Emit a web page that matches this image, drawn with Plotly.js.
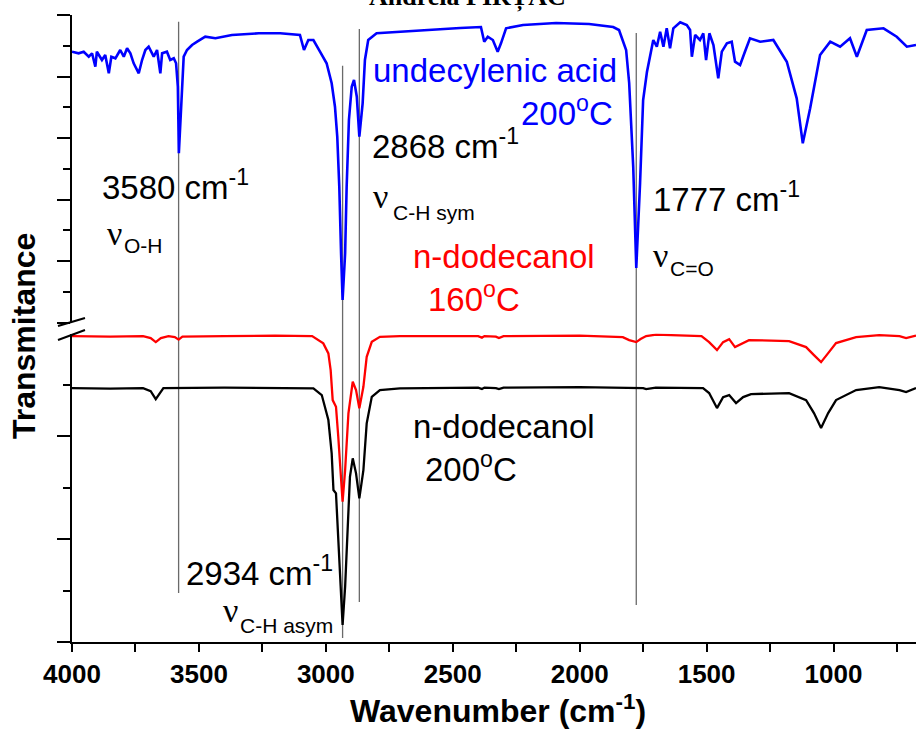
<!DOCTYPE html>
<html>
<head>
<meta charset="utf-8">
<script src="https://cdn.plot.ly/plotly-3.0.1.min.js"></script>
<style>
  html, body { margin: 0; padding: 0; background: #ffffff; }
  #chart { width: 916px; height: 731px; }
</style>
</head>
<body>
<div id="chart"></div>
<script>
// ---------------- DATA (transmittance in arbitrary units) ----------------
// undecylenic acid, 200 °C (upper panel)
const acidWavenumber = [4000,3974,3954,3934,3921,3908,3902,3882,3869,3855,3845,3829,3810,3796,3783,3770,3757,3737,3724,3711,3698,3678,3665,3652,3645,3626,3613,3599,3590,3583,3579,3570,3560,3547,3527,3507,3475,3435,3370,3264,3180,3102,3086,3069,3049,3023,2997,2977,2964,2955,2947,2940,2934,2924,2918,2909,2898,2889,2878,2868,2855,2846,2833,2800,2708,2578,2471,2389,2376,2362,2342,2323,2310,2290,2223,2093,1963,1868,1845,1817,1805,1789,1777,1762,1750,1735,1722,1710,1696,1683,1670,1657,1644,1631,1604,1578,1565,1558,1545,1526,1513,1502,1489,1473,1454,1440,1420,1401,1388,1368,1349,1329,1289,1237,1184,1145,1121,1092,1053,1013,974,935,908,869,803,751,711,675];
const acidSignal = [270.8,269.2,270.8,265.8,269.2,255.8,270.8,262.5,267.5,249.2,265.8,264.2,272.5,265.8,274.2,269.2,259.2,249.2,262.5,272.5,275.8,265.8,272.5,249.2,269.2,270.8,262.5,264.2,259.2,235.8,169.2,219.2,265.8,272.5,277.5,280.8,285.8,284.2,287.5,289.2,289.2,287.5,272.5,282.5,282.5,270.8,259.2,239.2,215.8,185.8,135.8,69.2,22.5,69.2,135.8,202.5,235.8,242.5,225.8,185.8,219.2,262.5,282.5,289.2,290.8,292.5,294.5,295.5,280.8,285.8,282.5,270.8,279.2,294.2,297.5,299.5,298.5,295.5,292.5,272.5,239.5,155.5,54.5,139.5,222.5,250.5,268,282.5,275.8,290.8,275.8,294.2,274.2,294.2,300.2,297.5,292.5,265.8,287.5,282.5,289.2,262.5,289.2,277.5,244.2,270.8,279.2,280.8,260.8,257.5,270.8,284.2,280.8,282.5,260.8,224.2,179.2,214.2,267.5,280.8,275.8,284.2,265.8,292.5,294.2,285.8,275.8,277.5];

// n-dodecanol, 160 °C (lower panel)
const dodec160Wavenumber = [4000,3850,3720,3690,3670,3650,3620,3595,3580,3565,3400,3200,3054,3010,2990,2981,2973,2960,2951,2941,2934,2924,2911,2894,2881,2868,2852,2839,2819,2787,2708,2400,2385,2375,2330,2318,2300,2000,1830,1805,1777,1760,1738,1699,1520,1490,1459,1435,1411,1388,1356,1333,1175,1108,1077,1049,1021,990,911,820,740,714,675];
const dodec160Signal = [306,305.5,306,304,300,304,306,305,302.5,305.5,306,306.5,306,298.7,288.7,272,242,235.3,205.3,172,140.3,172,228.7,260.3,252,233.7,255.3,285.3,300.3,305.3,306,306,304.5,306,305.5,304,306,306.5,305,302,300,303,306,307.5,306,300,292,300,303,295,299,302,301,295,287,280,289,299,305,307,306,304,306.5];

// n-dodecanol, 200 °C (lower panel)
const dodec200Wavenumber = [4000,3850,3720,3690,3670,3655,3640,3400,3180,3049,3016,2990,2977,2970,2960,2951,2941,2934,2924,2913,2905,2894,2881,2868,2852,2839,2819,2787,2708,2400,2385,2375,2330,2318,2300,2000,1777,1750,1738,1700,1514,1490,1459,1435,1411,1384,1356,1325,1175,1108,1077,1049,1021,990,911,820,740,714,675];
const dodec200Signal = [254,253.5,254,251,243,249,254,254.5,253.7,253.7,247,222,188.7,152,148.7,105.3,55.3,17,55.3,122,165.3,183.7,168.7,143.7,172,218.7,245.3,252,253.7,254.5,253,254.5,254,253,254.5,255,254.5,254,253,254.5,254,249,234,245,247,239,245,248,249,242,229,214,229,242,252,255,252,250,254];

// marked band positions (cm-1)
const bandPositions = [3580, 2934, 2868, 1777];

// text labels
const labelTexts = [
  'undecylenic acid', '200<sup>o</sup>C',
  '2868 cm<sup>-1</sup>', '3580 cm<sup>-1</sup>', '1777 cm<sup>-1</sup>',
  'n-dodecanol', '160<sup>o</sup>C',
  'n-dodecanol', '200<sup>o</sup>C',
  '2934 cm<sup>-1</sup>'
];
const nuSubscripts = ['C-H sym', 'O-H', 'C=O', 'C-H asym'];

// ---------------- LAYOUT HELPERS ----------------
const W = 916, H = 731;
const M = {l: 72, r: 0, t: 15, b: 89};
const PW = W - M.l - M.r, PH = H - M.t - M.b;
const px2x = px => (px - M.l) / PW;
const px2y = py => (H - M.b - py) / PH;

const BLUE = '#0000ff', RED = '#ff0000', BLACK = '#000000';
const sans = 'Liberation Sans, Arial, sans-serif';
const serif = 'Liberation Serif, Times New Roman, serif';

// label placement (pixel centres) and colours
const labelStyle = [
  {x: 371, y: 70.8, xa: 'left',  c: BLUE},
  {x: 615, y: 110.5, xa: 'right', c: BLUE},
  {x: 370, y: 143.5, xa: 'left',  c: BLACK},
  {x: 100, y: 185.5, xa: 'left',  c: BLACK},
  {x: 651, y: 196.5, xa: 'left',  c: BLACK},
  {x: 411, y: 256.8, xa: 'left',  c: RED},
  {x: 426, y: 296.5, xa: 'left',  c: RED},
  {x: 411, y: 426.8, xa: 'left',  c: BLACK},
  {x: 423, y: 466.5, xa: 'left',  c: BLACK},
  {x: 184, y: 570.5, xa: 'left',  c: BLACK}
];
const nuStyle = [
  {nx: 371, ny: 196.4, sx: 391, sy: 212.7},
  {nx: 105, ny: 233.4, sx: 122, sy: 245.7},
  {nx: 651, ny: 255.4, sx: 668, sy: 268.7},
  {nx: 221, ny: 610.4, sx: 238, sy: 625.7}
];
const bandLineExtent = [
  {top: 21.7, bottom: 593},
  {top: 65.7, bottom: 638},
  {top: 29, bottom: 602},
  {top: 33, bottom: 605}
];

const annotations = [];
labelTexts.forEach((t, i) => {
  const s = labelStyle[i];
  annotations.push({
    text: t, xref: 'paper', yref: 'paper', x: px2x(s.x), y: px2y(s.y),
    xanchor: s.xa, yanchor: 'middle', showarrow: false,
    font: {family: sans, size: 33, color: s.c}
  });
});
nuSubscripts.forEach((t, i) => {
  const s = nuStyle[i];
  annotations.push({
    text: 'ν', xref: 'paper', yref: 'paper', x: px2x(s.nx), y: px2y(s.ny),
    xanchor: 'left', yanchor: 'middle', showarrow: false,
    font: {family: serif, size: 34, color: BLACK}
  });
  annotations.push({
    text: t, xref: 'paper', yref: 'paper', x: px2x(s.sx), y: px2y(s.sy),
    xanchor: 'left', yanchor: 'middle', showarrow: false,
    font: {family: sans, size: 21, color: BLACK}
  });
});
// axis titles
annotations.push({
  text: 'Wavenumber (cm<sup>-1</sup>)', xref: 'paper', yref: 'paper',
  x: px2x(498), y: px2y(709), xanchor: 'center', yanchor: 'middle', showarrow: false,
  font: {family: sans, size: 32, color: BLACK, weight: 'bold'}
});
annotations.push({
  text: 'Transmitance', xref: 'paper', yref: 'paper', textangle: -90,
  x: px2x(24), y: px2y(336), xanchor: 'center', yanchor: 'middle', showarrow: false,
  font: {family: sans, size: 32, color: BLACK, weight: 'bold'}
});
// page header (cut off at the top)
annotations.push({
  text: 'Andreia PIRȚAC', xref: 'paper', yref: 'paper',
  x: px2x(467.5), y: px2y(-2.8), xanchor: 'center', yanchor: 'middle', showarrow: false,
  font: {family: serif, size: 26, color: BLACK, weight: 'bold'}
});

const shapes = bandPositions.map((b, i) => ({
  type: 'line', xref: 'x', yref: 'paper', x0: b, x1: b,
  y0: px2y(bandLineExtent[i].bottom), y1: px2y(bandLineExtent[i].top),
  line: {color: '#6a6a6a', width: 1.3}, layer: 'below'
}));
// axis break marks
shapes.push({type: 'line', xref: 'paper', yref: 'paper',
  x0: px2x(58), y0: px2y(326), x1: px2x(85), y1: px2y(318), line: {color: BLACK, width: 2}});
shapes.push({type: 'line', xref: 'paper', yref: 'paper',
  x0: px2x(58), y0: px2y(340), x1: px2x(85), y1: px2y(330), line: {color: BLACK, width: 2}});

const traces = [
  {x: acidWavenumber, y: acidSignal, xaxis: 'x', yaxis: 'y2', type: 'scatter', mode: 'lines',
   line: {color: BLUE, width: 2.6}, name: 'undecylenic acid 200°C'},
  {x: dodec160Wavenumber, y: dodec160Signal, xaxis: 'x', yaxis: 'y', type: 'scatter', mode: 'lines',
   line: {color: RED, width: 2.3}, name: 'n-dodecanol 160°C'},
  {x: dodec200Wavenumber, y: dodec200Signal, xaxis: 'x', yaxis: 'y', type: 'scatter', mode: 'lines',
   line: {color: BLACK, width: 2.3}, name: 'n-dodecanol 200°C'}
];

const yBase = {
  showline: true, linecolor: BLACK, linewidth: 2, showgrid: false, zeroline: false,
  ticks: 'outside', tickcolor: BLACK, tickwidth: 2, showticklabels: false, fixedrange: true
};

const layout = {
  width: W, height: H,
  margin: M,
  paper_bgcolor: '#ffffff', plot_bgcolor: '#ffffff',
  showlegend: false,
  xaxis: {
    range: [4000, 675], anchor: 'y',
    showline: true, linecolor: BLACK, linewidth: 2, showgrid: false, zeroline: false,
    ticks: 'outside', ticklen: 8, tickwidth: 2, tickcolor: BLACK,
    tickmode: 'linear', tick0: 0, dtick: 500,
    minor: {ticks: 'outside', ticklen: 8, tickwidth: 2, tickcolor: BLACK, dtick: 250, tick0: 0},
    tickfont: {family: sans, size: 26, color: BLACK, weight: 'bold'},
    ticklabelstandoff: 0
  },
  yaxis: Object.assign({}, yBase, {
    domain: [0, px2y(333.5)], range: [0, 308.6], anchor: 'x',
    ticklen: 13, tickmode: 'linear', tick0: 0, dtick: 103,
    minor: {ticks: 'outside', ticklen: 7, tickwidth: 2, tickcolor: BLACK, tick0: 0, dtick: 51.5}
  }),
  yaxis2: Object.assign({}, yBase, {
    domain: [px2y(322.5), 1], range: [0, 307.5], anchor: 'x',
    ticklen: 13, tickmode: 'linear', tick0: 0, dtick: 61.5,
    minor: {ticks: 'outside', ticklen: 7, tickwidth: 2, tickcolor: BLACK, tick0: 0, dtick: 30.75}
  }),
  annotations: annotations,
  shapes: shapes
};

Plotly.newPlot('chart', traces, layout, {displayModeBar: false, staticPlot: true});
</script>
</body>
</html>
